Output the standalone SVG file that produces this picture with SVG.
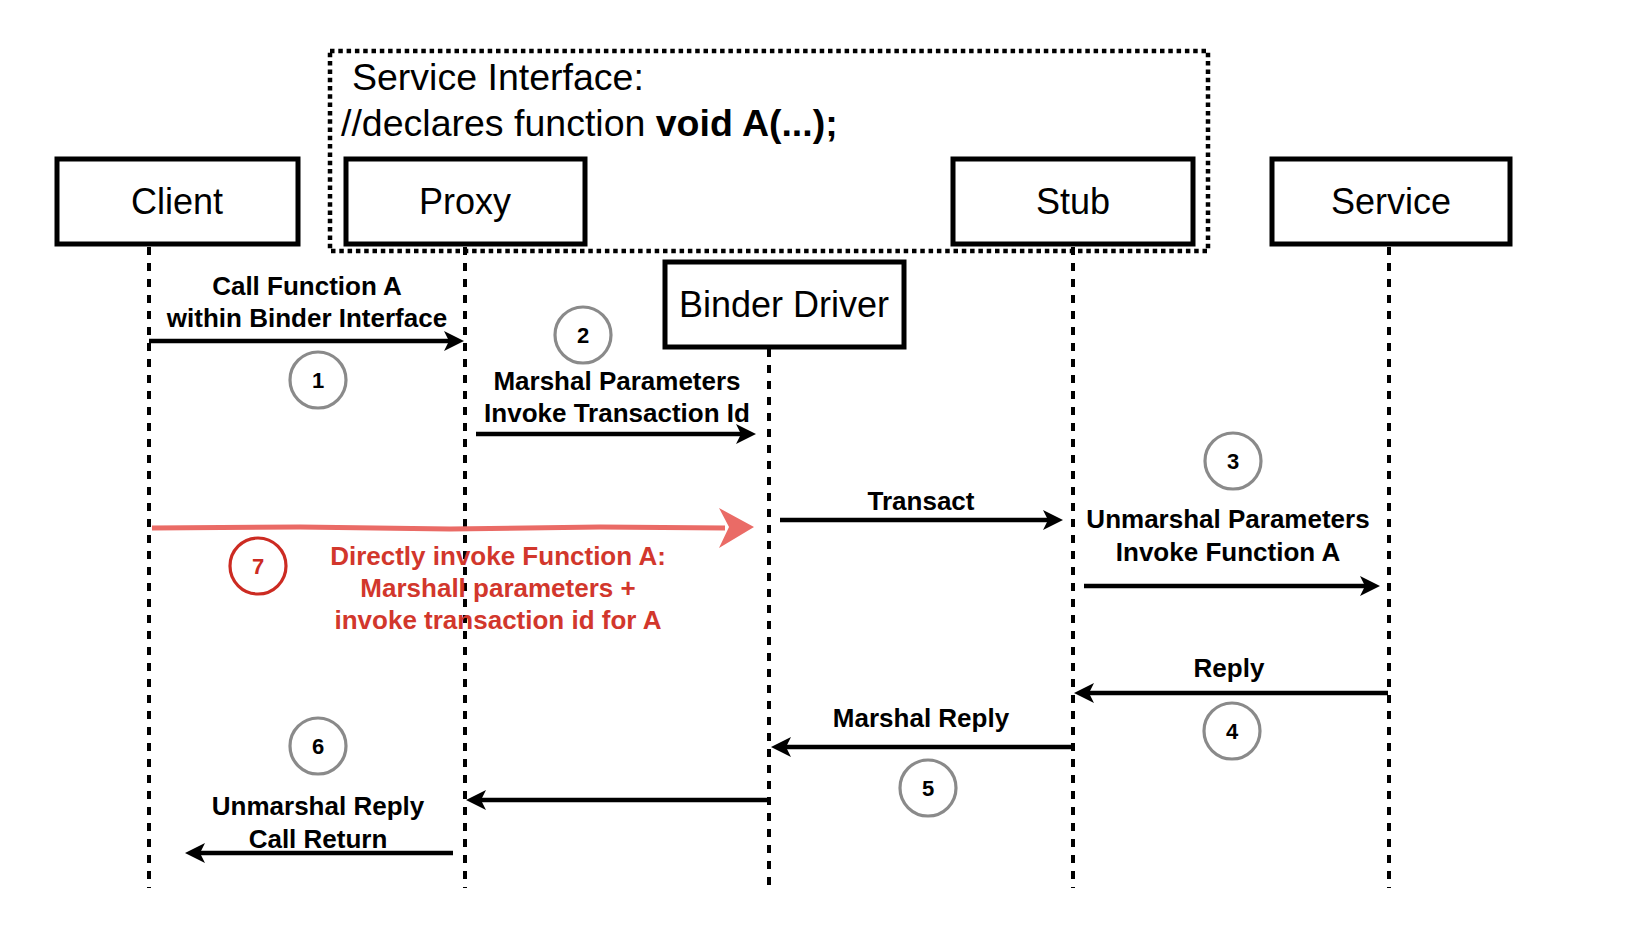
<svg xmlns="http://www.w3.org/2000/svg" width="1638" height="936" viewBox="0 0 1638 936">
<style>
  .box { fill: #fff; stroke: #000; stroke-width: 5; }
  .ntext { font-family: "Liberation Sans", Arial, sans-serif; font-size: 36px; fill: #000; text-anchor: middle; }
  .life { stroke: #000; stroke-width: 4; stroke-dasharray: 8 8; fill: none; }
  .msg { stroke: #000; stroke-width: 4.5; fill: none; marker-end: url(#arr); }
  .lbl { font-family: "Liberation Sans", Arial, sans-serif; font-size: 26px; font-weight: bold; fill: #000; text-anchor: middle; }
  .rlbl { font-family: "Liberation Sans", Arial, sans-serif; font-size: 26px; font-weight: bold; fill: #D2372C; text-anchor: middle; }
  .step { fill: #fff; stroke: #8A8A8A; stroke-width: 3.2; }
  .num { font-family: "Liberation Sans", Arial, sans-serif; font-size: 22px; font-weight: bold; fill: #000; text-anchor: middle; }
  .sitext { font-family: "Liberation Sans", Arial, sans-serif; font-size: 37.5px; fill: #000; }
</style>
<defs>
  <marker id="arr" markerUnits="userSpaceOnUse" viewBox="0 0 20 20" markerWidth="20" markerHeight="20" refX="12" refY="10" orient="auto">
    <path d="M0,0 L20,10 L0,20 L5,10 Z" fill="#000"/>
  </marker>
</defs>
<rect width="1638" height="936" fill="#fff"/>

<g id="service-interface">
  <rect x="330" y="51" width="878" height="200" fill="none" stroke="#000" stroke-width="4.5" stroke-dasharray="4.5 3.8"/>
  <text class="sitext" x="352" y="90">Service Interface:</text>
  <text class="sitext" x="341" y="136">//declares function <tspan font-weight="bold">void A(...);</tspan></text>
</g>

<g id="lifelines">
  <line class="life" x1="149" y1="247" x2="149" y2="888"/>
  <line class="life" x1="465" y1="247" x2="465" y2="888"/>
  <line class="life" x1="769" y1="349" x2="769" y2="888"/>
  <line class="life" x1="1073" y1="247" x2="1073" y2="888"/>
  <line class="life" x1="1389" y1="247" x2="1389" y2="888"/>
</g>

<g id="client">
  <rect class="box" x="57" y="159" width="241" height="85"/>
  <text class="ntext" x="177" y="214">Client</text>
</g>
<g id="proxy">
  <rect class="box" x="346" y="159" width="239" height="85"/>
  <text class="ntext" x="465" y="214">Proxy</text>
</g>
<g id="stub">
  <rect class="box" x="953" y="159" width="240" height="85"/>
  <text class="ntext" x="1073" y="214">Stub</text>
</g>
<g id="service">
  <rect class="box" x="1272" y="159" width="238" height="85"/>
  <text class="ntext" x="1391" y="214">Service</text>
</g>
<g id="binder-driver">
  <rect class="box" x="665" y="262" width="239" height="85"/>
  <text class="ntext" x="784" y="317">Binder Driver</text>
</g>

<g id="connectors">
  <line class="msg" x1="149" y1="341" x2="456" y2="341"/>
  <line class="msg" x1="476" y1="434" x2="748" y2="434"/>
  <line class="msg" x1="780" y1="520" x2="1055" y2="520"/>
  <line class="msg" x1="1084" y1="586" x2="1372" y2="586"/>
  <line class="msg" x1="1388" y1="693" x2="1082" y2="693"/>
  <line class="msg" x1="1073" y1="747" x2="779" y2="747"/>
  <line class="msg" x1="769" y1="800" x2="474" y2="800"/>
  <line class="msg" x1="453" y1="853" x2="193" y2="853"/>
  <path d="M152,528 L300,527 L450,529 L600,527 L725,528" stroke="#EA6B66" stroke-width="5" fill="none"/>
  <polygon points="754,527 719,508 729,527 719,548" fill="#EA6B66"/>
</g>

<g id="labels">
  <text class="lbl" x="307" y="295">Call Function A</text>
  <text class="lbl" x="307" y="327">within Binder Interface</text>
  <text class="lbl" x="617" y="390">Marshal Parameters</text>
  <text class="lbl" x="617" y="422">Invoke Transaction Id</text>
  <text class="lbl" x="921" y="510">Transact</text>
  <text class="lbl" x="1228" y="528">Unmarshal Parameters</text>
  <text class="lbl" x="1228" y="561">Invoke Function A</text>
  <text class="lbl" x="1229" y="677">Reply</text>
  <text class="lbl" x="921" y="727">Marshal Reply</text>
  <text class="lbl" x="318" y="815">Unmarshal Reply</text>
  <text class="lbl" x="318" y="848">Call Return</text>
  <text class="rlbl" x="498" y="565">Directly invoke Function A:</text>
  <text class="rlbl" x="498" y="597">Marshall parameters +</text>
  <text class="rlbl" x="498" y="629">invoke transaction id for A</text>
</g>

<g id="step-1"><circle class="step" cx="318" cy="380" r="28"/><text class="num" x="318" y="388">1</text></g>
<g id="step-2"><circle class="step" cx="583" cy="335" r="28"/><text class="num" x="583" y="343">2</text></g>
<g id="step-3"><circle class="step" cx="1233" cy="461" r="28"/><text class="num" x="1233" y="469">3</text></g>
<g id="step-4"><circle class="step" cx="1232" cy="731" r="28"/><text class="num" x="1232" y="739">4</text></g>
<g id="step-5"><circle class="step" cx="928" cy="788" r="28"/><text class="num" x="928" y="796">5</text></g>
<g id="step-6"><circle class="step" cx="318" cy="746" r="28"/><text class="num" x="318" y="754">6</text></g>
<g id="step-7"><circle cx="258" cy="566" r="28" fill="#fff" stroke="#CC2B22" stroke-width="3.2"/><text class="num" x="258" y="574" style="fill:#CC2B22">7</text></g>
</svg>
